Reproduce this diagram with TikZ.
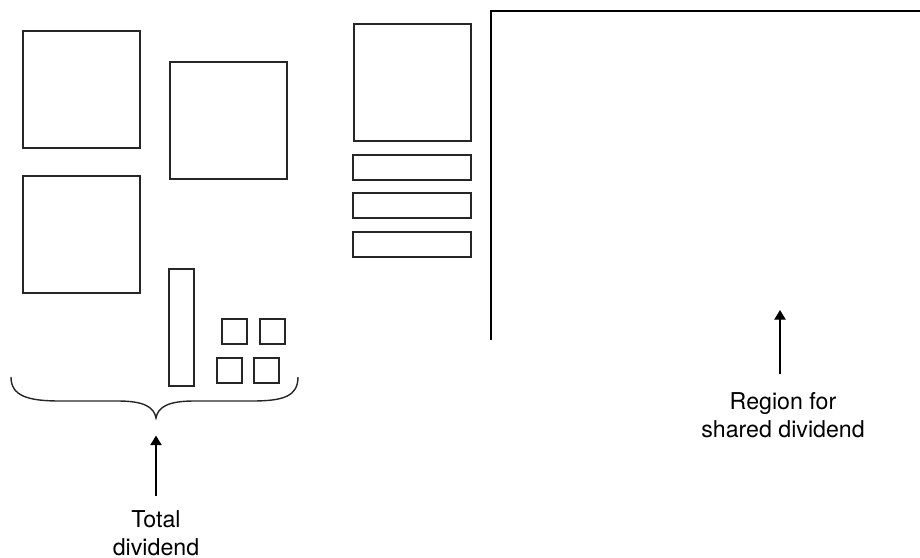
\documentclass[tikz,border=0pt]{standalone}
\usepackage{fontspec}
\setmainfont{TeX Gyre Heros}
\usepackage{tikz}
\usetikzlibrary{arrows.meta}

\begin{document}
\begin{tikzpicture}[x=0.02cm,y=-0.02cm,>={Triangle[length=5.5pt,width=6.5pt]},
  box/.style={draw=black!85,line width=0.65pt},
  wall/.style={draw=black,line width=1.6pt},
  label/.style={align=center,font=\fontsize{13.2}{16}\selectfont,inner sep=0pt}]
\useasboundingbox (0,0) rectangle (920,558);
\draw[box] (23,31) rectangle (140,148);
\draw[box] (170,62) rectangle (287,179);
\draw[box] (23,176) rectangle (140,293);
\draw[box] (169,269) rectangle (194,386);
\draw[box] (222,319) rectangle (247,344);
\draw[box] (260,319) rectangle (285,344);
\draw[box] (217,358) rectangle (242,383);
\draw[box] (254,358) rectangle (279,383);
\draw[box] (354,24) rectangle (471,141);
\draw[box] (353,155) rectangle (471,180);
\draw[box] (353,193) rectangle (471,218);
\draw[box] (353,232) rectangle (471,257);
\draw[wall] (491,340) -- (491,11) -- (921,11);
\coordinate (tip) at (156,418);
\draw[box,line width=0.8pt] (11,377) .. controls (11,396) and (28,401) .. (60,401)
  -- (118,401) .. controls (144,401) and (154,407) .. (tip)
  .. controls (158,407) and (168,401) .. (194,401)
  -- (252,401) .. controls (284,401) and (298,396) .. (298,377);
\coordinate (region) at (780,310);
\node[label,anchor=north] (total) at (156,510) {Total\\dividend};
\node[label,anchor=north] (shared) at (783,392) {Region for\\shared dividend};
\draw[->,line width=0.7pt,shorten <=8pt,shorten >=10pt] (total.north) -- (tip);
\draw[->,line width=0.7pt,shorten <=10.5pt] (shared.north -| region) -- (region);
\end{tikzpicture}
\end{document}
